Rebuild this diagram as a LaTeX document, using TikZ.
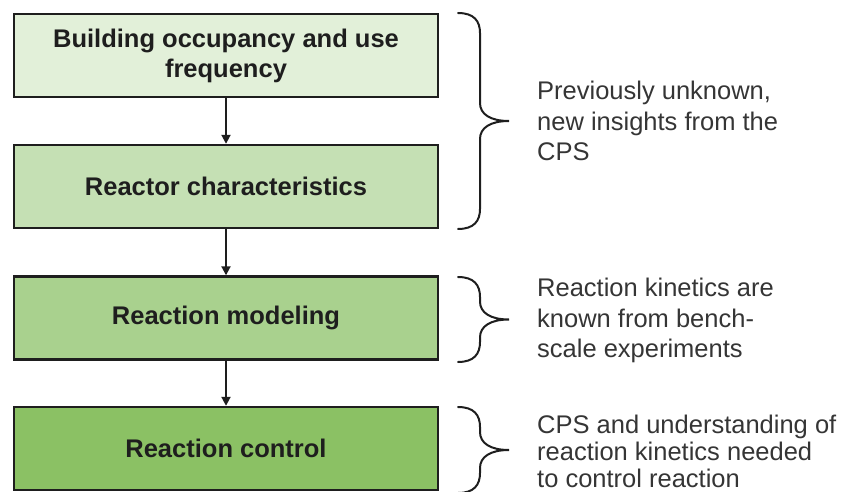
\documentclass[tikz,border=0pt]{standalone}
\usepackage{fontspec}
\setmainfont{Liberation Sans}
\usetikzlibrary{arrows.meta}
\definecolor{g1}{HTML}{E2F0D9}
\definecolor{g2}{HTML}{C5E0B4}
\definecolor{g3}{HTML}{A9D18E}
\definecolor{g4}{HTML}{8BC164}
\definecolor{ink}{HTML}{1E1E1E}
\tikzset{
  pics/cbrace/.style={code={
    \draw[bracestyle] (0,-#1) .. controls (16,-#1) and (22,{-#1+8}) .. (22,{-#1+20})
      -- (22,-18) .. controls (22,-7) and (32,0) .. (51,0)
      .. controls (32,0) and (22,7) .. (22,18)
      -- (22,{#1-20}) .. controls (22,{#1-8}) and (16,#1) .. (0,#1);
  }}
}
\begin{document}
\begin{tikzpicture}[x=1pt,y=-1pt,
  stage/.style={draw=ink, line width=2.4pt, minimum width=424pt, minimum height=83pt,
    inner sep=0pt, align=center, font=\fontsize{25.5}{30}\selectfont\bfseries, text=ink},
  flow/.style={draw=ink, line width=1.9pt, -{Triangle[width=9pt,length=9pt]}},
  note/.style={anchor=north west, inner sep=0pt, align=left,
    font=\fontsize{25.5}{30.5}\selectfont, text=ink!90},
  bracestyle/.style={draw=ink, line width=2pt, line cap=round}
]
\useasboundingbox (0,0) rectangle (844,492);

% process stages
\node[stage, fill=g1] (occ) at (226,55.5) {Building occupancy and use\\frequency};
\node[stage, fill=g2] (reac) at (226,186.5) {Reactor characteristics};
\node[stage, fill=g3] (model) at (226,318) {Reaction modeling};
\node[stage, fill=g4] (ctrl) at (226,448.5) {Reaction control};

% flow arrows
\draw[flow] (occ) -- (reac);
\draw[flow] (reac) -- (model);
\draw[flow] (model) -- (ctrl);

% braces
\pic at (458,121) {cbrace=108};
\pic at (458,319.5) {cbrace=42.5};
\pic at (458,450) {cbrace=43};

% annotations
\node[note] (n1) at (537,81) {Previously unknown,\\new insights from the\\CPS};
\node[note] (n2) at (537,278) {Reaction kinetics are\\known from bench-\\scale experiments};
\node[note, font=\fontsize{25.5}{27}\selectfont] (n3) at (537,415) {CPS and understanding of\\reaction kinetics needed\\to control reaction};
\end{tikzpicture}
\end{document}
